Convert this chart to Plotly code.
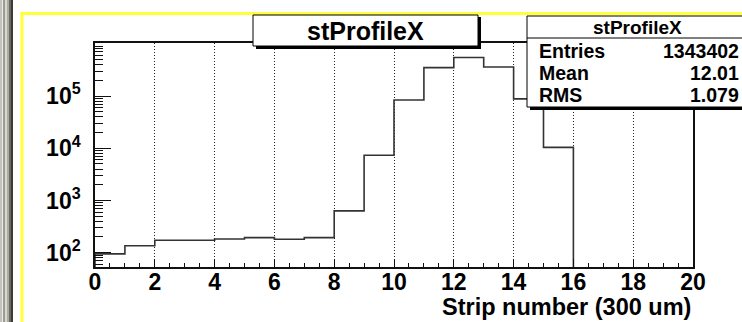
import plotly.graph_objects as go

# Histogram content: 20 strips, unit width, counts per strip
bin_edges = list(range(0, 21))
counts = [95, 136, 173, 173, 183, 194, 181, 194, 633, 7330,
          84000, 350000, 545000, 360000, 88000, 10400, 0, 0, 0, 0]

hist_name = "stProfileX"
x_title = "Strip number (300 um)"
stat_labels = ["Entries", "Mean", "RMS"]
stat_values = ["1343402", "12.01", "1.079"]
y_decades = [2, 3, 4, 5]

W, H = 742, 322
L, R, T, B = 95, 49, 43, 55
PW, PH = W - L - R, H - T - B


def px(x):
    return (x - L) / PW


def py(y):
    return (H - B - y) / PH


# empty strips cannot sit on a log axis; park them far below the visible range
floor = 1.0
ys = [c if c > 0 else floor for c in counts]
step_x = [bin_edges[0]] + bin_edges[:-1] + [bin_edges[-1]]
step_y = [floor] + ys + [floor]

fig = go.Figure()
fig.add_trace(go.Scatter(
    x=step_x, y=step_y, mode="lines", line_shape="hv",
    line=dict(color="#333333", width=1.6), hoverinfo="skip", showlegend=False,
))

tick_font = dict(family="Liberation Sans", size=23, color="black", weight="bold")

minor_y = [k * 10 ** d for d in range(1, 7) for k in range(2, 10)]

fig.update_layout(
    width=W, height=H,
    margin=dict(l=L, r=R, t=T, b=B, pad=0),
    paper_bgcolor="white", plot_bgcolor="white",
    showlegend=False,
    xaxis=dict(
        range=[0, 20], dtick=2, tick0=0,
        showline=True, linecolor="#111", linewidth=1.5, mirror=True,
        ticks="inside", ticklen=8, tickwidth=1, tickcolor="#111",
        showgrid=True, gridcolor="#222", gridwidth=1, griddash="1px,2px",
        minor=dict(dtick=0.5, ticks="inside", ticklen=4, tickwidth=1,
                   tickcolor="#111", showgrid=False),
        tickfont=tick_font, zeroline=False, ticklabelstandoff=-6,
    ),
    yaxis=dict(
        type="log", range=[1.726, 6.015],
        tickvals=[10 ** d for d in y_decades],
        ticktext=[f"10<sup>{d}</sup>" for d in y_decades],
        showline=True, linecolor="#111", linewidth=1.5, mirror=True,
        ticks="inside", ticklen=16, tickwidth=1, tickcolor="#111",
        showgrid=False, zeroline=False,
        minor=dict(tickvals=minor_y, ticks="inside", ticklen=8, tickwidth=1,
                   tickcolor="#111", showgrid=False),
        tickfont=tick_font, ticklabelstandoff=8,
    ),
)

shapes = []
# window decoration on the left
stripes = [(0, 2, "#c4c4bc"), (2, 3, "#ececE4"), (3, 5, "#9c9c94"), (5, 7, "#d8d8d0"),
           (7, 9, "#acaca4"), (9, 11, "#6a6a62"), (11, 13, "#3c3c36")]
for x0, x1, c in stripes:
    shapes.append(dict(type="rect", xref="paper", yref="paper",
                       x0=px(x0), x1=px(x1), y0=py(H), y1=py(0),
                       fillcolor=c, line=dict(width=0), layer="above"))
# yellow pad frame
shapes.append(dict(type="line", xref="paper", yref="paper",
                   x0=px(22), x1=px(22), y0=py(12), y1=py(H + 2),
                   line=dict(color="#ffff3c", width=3), layer="above"))
shapes.append(dict(type="line", xref="paper", yref="paper",
                   x0=px(20.5), x1=px(W + 2), y0=py(13.5), y1=py(13.5),
                   line=dict(color="#ffff3c", width=3), layer="above"))

# title box with shadow
shapes.append(dict(type="rect", xref="paper", yref="paper",
                   x0=px(256), x1=px(481), y0=py(49), y1=py(17),
                   fillcolor="black", line=dict(width=0), layer="above"))
shapes.append(dict(type="rect", xref="paper", yref="paper",
                   x0=px(253), x1=px(478), y0=py(46), y1=py(15),
                   fillcolor="white", line=dict(color="black", width=1), layer="above"))

# statistics box with shadow
shapes.append(dict(type="rect", xref="paper", yref="paper",
                   x0=px(530), x1=px(760), y0=py(110), y1=py(19),
                   fillcolor="black", line=dict(width=0), layer="above"))
shapes.append(dict(type="rect", xref="paper", yref="paper",
                   x0=px(527), x1=px(757), y0=py(107), y1=py(16),
                   fillcolor="white", line=dict(color="black", width=1), layer="above"))
shapes.append(dict(type="line", xref="paper", yref="paper",
                   x0=px(527), x1=px(757), y0=py(38), y1=py(38),
                   line=dict(color="black", width=1), layer="above"))
fig.update_layout(shapes=shapes)

bold = lambda s: dict(family="Liberation Sans", size=s, color="black", weight="bold")
ann = []
ann.append(dict(text=hist_name, xref="paper", yref="paper", x=px(365.5), y=py(30.5),
                xanchor="center", yanchor="middle", showarrow=False, font=bold(25)))
ann.append(dict(text=hist_name, xref="paper", yref="paper", x=px(637), y=py(27.5),
                xanchor="center", yanchor="middle", showarrow=False, font=bold(19)))
row_y = [51, 73, 95]
for lab, val, yy in zip(stat_labels, stat_values, row_y):
    ann.append(dict(text=lab, xref="paper", yref="paper", x=px(537), y=py(yy),
                    xanchor="left", yanchor="middle", showarrow=False, font=bold(19.5)))
    ann.append(dict(text=val, xref="paper", yref="paper", x=px(741), y=py(yy),
                    xanchor="right", yanchor="middle", showarrow=False, font=bold(19.5)))
ann.append(dict(text=x_title, xref="paper", yref="paper", x=px(693), y=py(307),
                xanchor="right", yanchor="middle", showarrow=False, font=bold(23.5)))
fig.update_layout(annotations=ann)

fig.write_html("out.html")
